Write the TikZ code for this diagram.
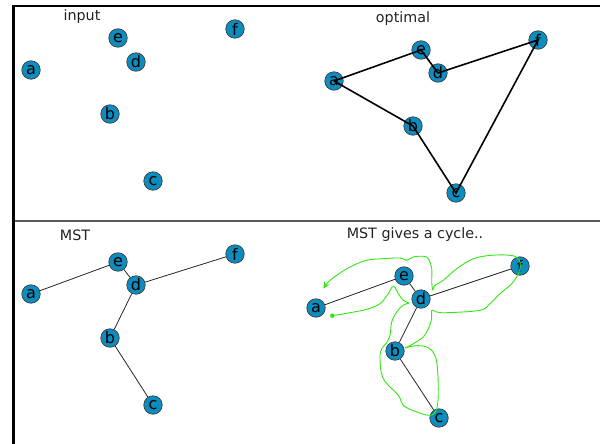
\documentclass[tikz,border=0pt]{standalone}
\usepackage{fontspec}
\setmainfont{DejaVu Sans}
\usetikzlibrary{arrows.meta}
\definecolor{nodeblue}{RGB}{14,140,190}
\definecolor{pen}{RGB}{50,230,20}
\definecolor{txt}{RGB}{34,34,34}
\begin{document}
\begin{tikzpicture}[x=1pt,y=-1pt,
  vtx/.style={circle, draw=black!80, line width=0.6pt, fill=nodeblue, minimum size=18.5pt, inner sep=0pt, font=\fontsize{16}{16}\selectfont},
  paneltitle/.style={font=\fontsize{14.3}{14.3}\selectfont, text=txt},
  tour/.style={line width=1.6pt, black},
  tree/.style={line width=0.8pt, black!85},
  sketch/.style={pen, line width=0.9pt}]
\useasboundingbox (0,0) rectangle (600,444);
% frame
\draw[line width=2.6pt, miter limit=10] (13.5,444) -- (13.5,6) -- (600,6);
\draw[line width=1.8pt, black!65] (14.5,221) -- (600,221);

% ---- input ----
\node[paneltitle] (t1) at (82,17) {input};
\node[vtx] (a1) at (31,70) {a};
\node[vtx] (e1) at (118,38) {e};
\node[vtx] (d1) at (136,62) {d};
\node[vtx] (f1) at (235,29) {f};
\node[vtx] (b1) at (110,114) {b};
\node[vtx] (c1) at (153,181) {c};

% ---- optimal ----
\node[paneltitle] (t2) at (403,19) {optimal};
\node[vtx] (a2) at (334,81) {a};
\node[vtx] (e2) at (421,50) {e};
\node[vtx] (d2) at (438,73) {d};
\node[vtx] (f2) at (538,40) {f};
\node[vtx] (b2) at (413,126) {b};
\node[vtx] (c2) at (456,193) {c};
\draw[tour] (a2.center) -- (e2.center) -- (d2.center) -- (f2.center) -- (c2.center) -- (b2.center) -- (a2.center);

% ---- MST ----
\node[paneltitle] (t3) at (75,235) {MST};
\node[vtx] (a3) at (31,294) {a};
\node[vtx] (e3) at (118,262) {e};
\node[vtx] (d3) at (136,285) {d};
\node[vtx] (f3) at (235,254) {f};
\node[vtx] (b3) at (110,338) {b};
\node[vtx] (c3) at (153,405) {c};
\draw[tree] (a3) -- (e3);
\draw[tree] (e3) -- (d3);
\draw[tree] (d3) -- (f3);
\draw[tree] (d3) -- (b3);
\draw[tree] (b3) -- (c3);

% ---- MST gives a cycle ----
\node[paneltitle] (t4) at (415,235) {MST gives a cycle..};
\node[vtx] (a4) at (316,308) {a};
\node[vtx] (e4) at (404,276) {e};
\node[vtx] (d4) at (421,299) {d};
\node[vtx] (f4) at (520,266) {f};
\node[vtx] (b4) at (395,351) {b};
\node[vtx] (c4) at (439,418) {c};
\draw[tree] (a4) -- (e4);
\draw[tree] (e4) -- (d4);
\draw[tree] (d4) -- (f4);
\draw[tree] (d4) -- (b4);
\draw[tree] (b4) -- (c4);

\coordinate (s0) at (332.3,315.7);
\fill[pen] (s0) circle (2.2pt);
\draw[sketch] plot[smooth, tension=0.6] coordinates {(332.3,315.7) (350,312.7) (366.7,309.3) (380,303.7) (388.3,293.7) (392,287) (395,287.5) (398.3,293.7) (403.3,300.3) (409.3,303)};
\draw[sketch] plot[smooth, tension=0.6] coordinates {(409.3,303) (403,305.3) (396.7,312) (391.7,322) (390,335.3) (386,343.7) (381.7,348.7) (380,358.7) (383.3,378.7) (398.3,395.3) (403.3,405.3) (415,411.3) (430,415.3) (436.7,408.7) (438.3,388.7) (436.7,362) (431.7,350.3) (423.3,346) (413.3,346) (405,348)};
\draw[sketch] plot[smooth, tension=0.6] coordinates {(405,348) (413.3,343.7) (423.3,337) (428.3,328.7) (431.7,318.7) (431.7,310.3) (436.7,312) (446.7,312.7) (480,310.3) (490,303.7) (500,293.7) (513.3,282) (520,268.7) (518.3,258.7) (510,255.3) (491.7,255.3) (473.3,258.7) (456.7,268.7) (443.3,280.3) (435,285.3) (432.7,290.3)};
\draw[sketch, -{Stealth[length=7pt,width=6pt,inset=2.5pt]}] plot[smooth, tension=0.6] coordinates {(432.7,290.3) (431.7,282) (431.7,268.7) (428.3,258.7) (423.3,256.3) (413.3,257) (406.7,260.3) (400,258) (383.3,258.7) (366.7,260.3) (350,267) (336.7,275.3) (328.3,282) (323.3,288.7)};
\end{tikzpicture}
\end{document}
